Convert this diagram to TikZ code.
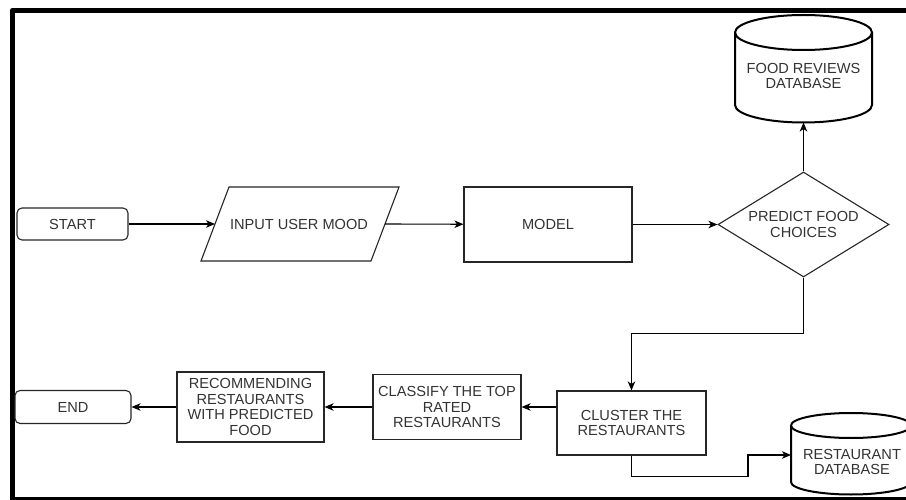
\documentclass[tikz,border=0pt]{standalone}
\usepackage{fontspec}
\setmainfont{Liberation Sans}
\usetikzlibrary{arrows.meta,shapes.geometric,calc}
\definecolor{txt}{HTML}{333333}
\begin{document}
\begin{tikzpicture}[x=1pt,y=-1pt,
  every node/.style={font=\fontsize{14.6}{15.7}\selectfont, text=txt, align=center},
  proc/.style={draw=black!85, line width=1.1pt, inner sep=0pt},
  term/.style={draw=black!85, line width=1.1pt, rounded corners=5pt, inner sep=0pt},
  conn/.style={line width=1.1pt, -{Stealth[length=9pt,width=7.5pt,inset=2.5pt]}},
  dbline/.style={line width=2pt}]
\useasboundingbox (0,0) rectangle (906,500);
\fill[white] (0,0) rectangle (906,500);

% frame
\draw[line width=5.5pt, line join=round] (910,10.5) -- (12.5,10.5) -- (12.5,502);
\draw[line width=3pt] (12.5,498.5) -- (910,498.5);

% nodes
\node[term, minimum width=111, minimum height=32] (start) at (72.5,224) {START};
\node (input) at (299,224) {INPUT USER MOOD};
\draw[line width=1.1pt, draw=black!85] (229,187) -- (399,187) -- (371,261) -- (201,261) -- cycle;
\coordinate (inL) at (215,224);
\coordinate (inR) at (385,224);
\node[proc, minimum width=168, minimum height=75] (model) at (548,224.5) {MODEL};
\node[diamond, draw=black!85, line width=1.1pt, inner sep=0pt, aspect=1.63,
      minimum width=171, minimum height=105] (dia) at (803.5,224.5) {PREDICT FOOD\\CHOICES};

% food reviews database
\draw[dbline] (803.5,32.5) ellipse [x radius=68.5, y radius=17.5];
\draw[dbline] (735,32.5) -- (735,105)
   .. controls (735,114.67) and (765.67,122.5) .. (803.5,122.5)
   .. controls (841.33,122.5) and (872,114.67) .. (872,105) -- (872,32.5);
\node (frdb) at (803.5,76) {FOOD REVIEWS\\DATABASE};
\coordinate (frdbB) at (803.5,122.5);

\node[proc, minimum width=149, minimum height=64] (cluster) at (631.5,423) {CLUSTER THE\\RESTAURANTS};
\node[proc, minimum width=148, minimum height=65] (classify) at (447,407) {CLASSIFY THE TOP\\RATED\\RESTAURANTS};
\node[proc, minimum width=147, minimum height=70] (recom) at (250.5,407) {RECOMMENDING\\RESTAURANTS\\WITH PREDICTED\\FOOD};
\node[term, minimum width=116, minimum height=33] (end) at (73,407) {END};

% restaurant database (clipped by picture edge)
\begin{scope}
\clip (0,0) rectangle (906,497);
\draw[dbline] (851,425.5) ellipse [x radius=60, y radius=12.5];
\draw[dbline] (791,425.5) -- (791,482)
   .. controls (791,488.9) and (817.86,494.5) .. (851,494.5)
   .. controls (884.14,494.5) and (911,488.9) .. (911,482) -- (911,425.5);
\end{scope}
\node (rdb) at (852,462) {RESTAURANT\\DATABASE};
\coordinate (rdbL) at (791,455);

% connectors
\draw[conn] (start) -- (inL);
\draw[conn] (inR) -- (model);
\draw[conn] (model) -- (dia);
\draw[conn] (dia) -- (frdbB);
\draw[conn] (dia.south) -- ++(0,56) -| (cluster.north);
\draw[conn] (cluster.west |- classify.east) -- (classify.east);
\draw[conn] (classify) -- (recom);
\draw[conn] (recom) -- (end);
\draw[conn] (cluster.south) -- ++(0,21) -- ++(116.5,0) |- (rdbL);
\end{tikzpicture}
\end{document}
